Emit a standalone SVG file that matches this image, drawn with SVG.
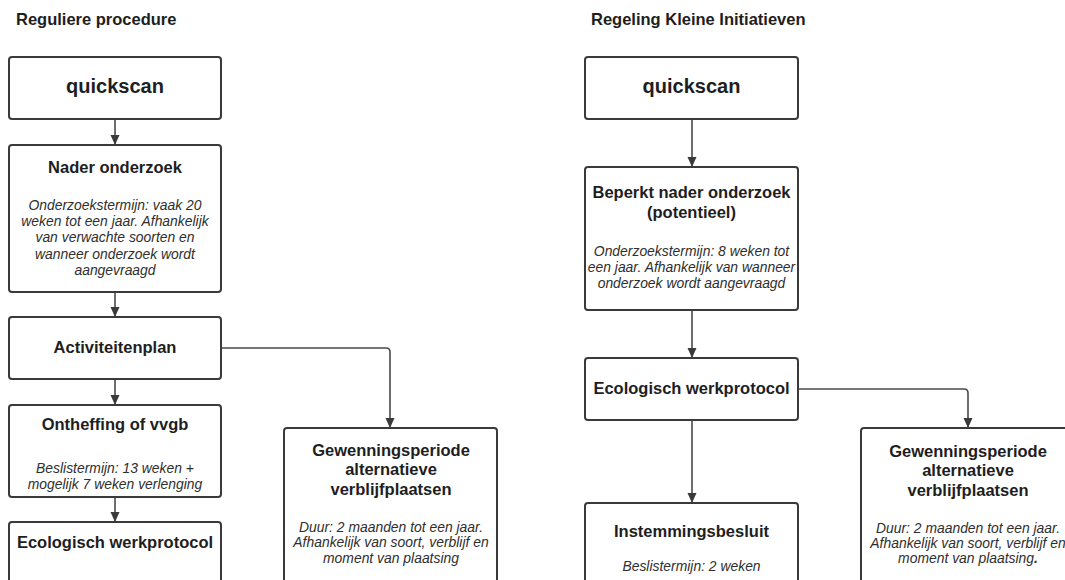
<svg xmlns="http://www.w3.org/2000/svg" width="1065" height="580" viewBox="0 0 1065 580">
<defs>
<marker id="ah" viewBox="0 0 10 12" refX="10" refY="6" markerWidth="10" markerHeight="12" markerUnits="userSpaceOnUse" orient="auto">
<path d="M0,1.5 L10,6 L0,10.5 Z" fill="#3a3a3a"/>
</marker>
<style>
.box{fill:#fff;stroke:#3a3a3a;stroke-width:2}
.t{font-family:"Liberation Sans",Arial,sans-serif;font-weight:bold;fill:#1e1e1e;text-anchor:middle}
.h{font-family:"Liberation Sans",Arial,sans-serif;font-weight:bold;fill:#1e1e1e;font-size:16.5px}
.big{font-size:20px}
.n{font-size:16.5px}
.i{font-family:"Liberation Sans",Arial,sans-serif;font-style:italic;fill:#2e2e2e;font-size:13.9px;text-anchor:middle}
.c{fill:none;stroke:#4a4a4a;stroke-width:1.6}
</style>
</defs>
<rect width="1065" height="580" fill="#fff"/>
<text class="h" x="16" y="24.5">Reguliere procedure</text>
<text class="h" x="591" y="24.5">Regeling Kleine Initiatieven</text>

<g id="connectors">
<path class="c" d="M115,120 V145" marker-end="url(#ah)"/>
<path class="c" d="M115,293 V317" marker-end="url(#ah)"/>
<path class="c" d="M115,380 V405" marker-end="url(#ah)"/>
<path class="c" d="M115,498 V522" marker-end="url(#ah)"/>
<path class="c" d="M222,348 H386 Q390,348 390,352 V428" marker-end="url(#ah)"/>
<path class="c" d="M692,120 V167" marker-end="url(#ah)"/>
<path class="c" d="M692,311 V358" marker-end="url(#ah)"/>
<path class="c" d="M692,421 V503" marker-end="url(#ah)"/>
<path class="c" d="M799,389 H964 Q968,389 968,393 V428" marker-end="url(#ah)"/>
</g>

<g id="l-quickscan">
<rect class="box" x="9" y="57" width="212" height="62" rx="3"/>
<text class="t big" x="115" y="93">quickscan</text>
</g>
<g id="l-nader">
<rect class="box" x="9" y="145" width="212" height="147" rx="3"/>
<text class="t n" x="115" y="173">Nader onderzoek</text>
<text class="i" x="115" y="210">Onderzoekstermijn: vaak 20</text>
<text class="i" x="115" y="226">weken tot een jaar. Afhankelijk</text>
<text class="i" x="115" y="242">van verwachte soorten en</text>
<text class="i" x="115" y="259">wanneer onderzoek wordt</text>
<text class="i" x="115" y="275">aangevraagd</text>
</g>
<g id="l-activiteitenplan">
<rect class="box" x="9" y="317" width="212" height="62" rx="3"/>
<text class="t n" x="115" y="353">Activiteitenplan</text>
</g>
<g id="l-ontheffing">
<rect class="box" x="9" y="405" width="212" height="92" rx="3"/>
<text class="t n" x="115" y="430">Ontheffing of vvgb</text>
<text class="i" x="115" y="473">Beslistermijn: 13 weken +</text>
<text class="i" x="115" y="489">mogelijk 7 weken verlenging</text>
</g>
<g id="l-ecologisch">
<rect class="box" x="9" y="522" width="212" height="80" rx="3"/>
<text class="t n" x="115" y="548">Ecologisch werkprotocol</text>
</g>
<g id="l-gewenning">
<rect class="box" x="284" y="428" width="213" height="180" rx="3"/>
<text class="t n" x="391" y="456">Gewenningsperiode</text>
<text class="t n" x="391" y="475">alternatieve</text>
<text class="t n" x="391" y="495">verblijfplaatsen</text>
<text class="i" x="391" y="532">Duur: 2 maanden tot een jaar.</text>
<text class="i" x="391" y="547">Afhankelijk van soort, verblijf en</text>
<text class="i" x="391" y="563">moment van plaatsing</text>
</g>

<g id="r-quickscan">
<rect class="box" x="585" y="57" width="213" height="62" rx="3"/>
<text class="t big" x="691.5" y="93">quickscan</text>
</g>
<g id="r-beperkt">
<rect class="box" x="585" y="167" width="213" height="143" rx="3"/>
<text class="t n" x="691.5" y="198">Beperkt nader onderzoek</text>
<text class="t n" x="691.5" y="218">(potentieel)</text>
<text class="i" x="691.5" y="256">Onderzoekstermijn: 8 weken tot</text>
<text class="i" x="691.5" y="272">een jaar. Afhankelijk van wanneer</text>
<text class="i" x="691.5" y="288">onderzoek wordt aangevraagd</text>
</g>
<g id="r-ecologisch">
<rect class="box" x="585" y="358" width="213" height="62" rx="3"/>
<text class="t n" x="691.5" y="394">Ecologisch werkprotocol</text>
</g>
<g id="r-instemmings">
<rect class="box" x="585" y="503" width="213" height="100" rx="3"/>
<text class="t n" x="691.5" y="537">Instemmingsbesluit</text>
<text class="i" x="691.5" y="571">Beslistermijn: 2 weken</text>
</g>
<g id="r-gewenning">
<rect class="box" x="861" y="428" width="213" height="180" rx="3"/>
<text class="t n" x="968" y="457">Gewenningsperiode</text>
<text class="t n" x="968" y="476">alternatieve</text>
<text class="t n" x="968" y="496">verblijfplaatsen</text>
<text class="i" x="968" y="533">Duur: 2 maanden tot een jaar.</text>
<text class="i" x="968" y="548">Afhankelijk van soort, verblijf en</text>
<text class="i" x="968" y="563">moment van plaatsing<tspan font-weight="bold">.</tspan></text>
</g>
</svg>
